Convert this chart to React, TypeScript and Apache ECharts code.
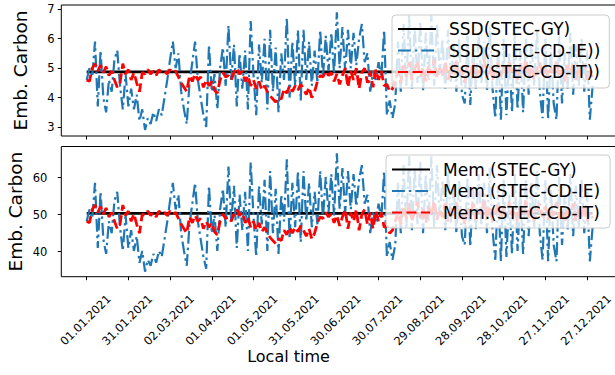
import React, { useEffect, useRef } from 'react';
import * as echarts from 'echarts';

// x axis: days counted from 01.12.2020 (01.01.2021 = day 31); series sampled every 2 days
const FIRST_DAY = 31;
const STEP_DAYS = 2;
const tickDays = [31, 61, 91, 121, 151, 181, 211, 241, 271, 301, 331, 361, 391];
const tickLabels = ['01.01.2021', '31.01.2021', '02.03.2021', '01.04.2021', '01.05.2021', '31.05.2021', '30.06.2021', '30.07.2021', '29.08.2021', '28.09.2021', '28.10.2021', '27.11.2021', '27.12.2021'];
const ssdTicks = [3, 4, 5, 6, 7];
const memTicks = [40, 50, 60];

const gyDays = [31, 395];
const ssdGY = [4.87, 4.87];
const memGY = [50.35, 50.35];

const ssdIE = [
  4.6, 5.0, 4.7, 5.9, 3.7, 5.6, 4.0, 3.5, 4.6, 4.2,
  5.3, 5.6, 4.4, 3.6, 4.8, 3.7, 4.3, 3.6, 4.1, 3.2,
  3.6, 2.9, 3.3, 3.1, 3.5, 3.2, 3.6, 3.4, 4.0, 4.6,
  5.3, 5.9, 5.0, 5.5, 4.2, 3.6, 3.1, 4.5, 5.2, 5.9,
  4.6, 4.0, 3.4, 3.0, 5.8, 4.2, 4.8, 3.6, 5.0, 5.7,
  4.4, 6.45, 4.6, 5.8, 3.7, 5.5, 4.3, 5.6, 3.6, 6.6,
  4.8, 3.4, 5.8, 4.5, 6.0, 3.6, 6.3, 4.2, 5.7, 3.5,
  5.5, 4.6, 6.7, 4.0, 5.9, 4.4, 6.3, 3.9, 6.3, 4.6,
  5.9, 4.4, 5.6, 4.5, 6.3, 4.7, 6.1, 4.9, 6.2, 4.8,
  6.9, 5.0, 6.4, 4.9, 6.3, 5.0, 6.2, 5.1, 6.0, 6.5,
  5.2, 5.5, 4.2, 4.9, 4.6, 5.2, 4.7, 6.3, 3.4, 3.9,
  3.3, 3.8, 5.9, 4.2, 6.5, 4.4, 6.8, 4.3, 6.4, 4.5,
  6.6, 4.2, 6.2, 4.6, 6.8, 4.4, 6.5, 4.8, 6.0, 4.3,
  6.3, 4.5, 5.8, 4.2, 6.0, 4.1, 3.8, 6.1, 3.75, 5.7,
  4.3, 6.2, 4.5, 5.9, 4.2, 6.4, 4.3, 3.3, 5.8, 3.25,
  6.0, 3.4, 5.5, 3.5, 6.2, 3.6, 5.6, 3.5, 6.0, 4.1,
  5.9, 4.4, 6.3, 4.2, 3.3, 6.0, 3.25, 5.7, 3.8, 3.25,
  6.1, 3.8, 5.5, 4.3, 6.2, 4.1, 5.8, 4.4, 6.0, 4.2,
  5.6, 3.25, 4.4,
];

const ssdIT = [
  4.6, 4.55, 5.0, 5.15, 4.9, 5.1, 4.85, 5.05, 4.75, 4.9,
  4.6, 4.35, 4.5, 5.15, 4.8, 4.95, 4.6, 4.85, 4.5, 4.2,
  4.85, 4.8, 4.95, 4.8, 4.9, 4.75, 4.95, 4.85, 4.9, 4.8,
  4.95, 4.85, 4.9, 4.7, 4.5, 4.35, 4.2, 4.75, 4.55, 4.8,
  4.6, 4.7, 4.35, 4.6, 4.4, 4.55, 4.25, 4.15, 4.6, 4.85,
  4.7, 4.75, 4.6, 4.85, 5.0, 4.8, 4.9, 4.55, 4.75, 4.4,
  4.6, 4.3, 4.55, 4.25, 4.4, 4.2, 4.05, 3.95, 3.85, 4.0,
  3.95, 4.3, 4.15, 4.4, 4.2, 4.4, 4.25, 4.45, 4.3, 4.1,
  4.35, 4.0, 4.2, 4.55, 4.75, 4.7, 4.9, 4.75, 4.85, 4.55,
  4.8, 4.45, 4.75, 5.0, 4.35, 4.9, 4.6, 5.0, 4.3, 4.85,
  5.0, 4.5, 4.9, 4.35, 4.95, 4.6, 4.9, 4.4, 4.45, 4.2,
  4.3, 4.6, 4.9, 4.5, 5.1, 4.7, 5.2, 4.6, 4.95, 5.25,
  4.7, 5.0, 4.55, 5.1, 4.8, 5.3, 4.65, 5.0, 4.75, 5.2,
  4.6, 5.05, 4.8, 5.25, 4.7, 4.95, 4.5, 5.1, 4.8, 5.2,
  4.65, 5.0, 4.85, 5.3, 4.7, 5.05, 4.6, 4.9, 5.2, 4.7,
  5.1, 4.75, 5.25, 4.8, 5.0, 4.6, 5.15, 4.85, 5.3, 4.7,
  5.05, 4.6, 4.95, 5.2, 4.75, 5.1, 4.65, 5.0, 4.8, 5.25,
  4.7, 4.95, 4.55, 5.1, 4.8, 5.2, 4.6, 5.0, 4.75, 5.15,
  4.6, 4.9, 4.7,
];

const memIE = [
  48.2, 51.4, 49.0, 58.6, 41.0, 56.2, 43.4, 39.4, 48.2, 45.0,
  53.8, 56.2, 46.6, 40.2, 49.8, 41.0, 45.8, 40.2, 44.2, 37.0,
  40.2, 34.6, 37.8, 36.2, 39.4, 37.0, 40.2, 38.6, 43.4, 48.2,
  53.8, 58.6, 51.4, 55.4, 45.0, 40.2, 36.2, 47.4, 53.0, 58.6,
  48.2, 43.4, 38.6, 35.4, 57.8, 45.0, 49.8, 40.2, 51.4, 57.0,
  46.6, 63.0, 48.2, 57.8, 41.0, 55.4, 45.8, 56.2, 40.2, 64.2,
  49.8, 38.6, 57.8, 47.4, 59.4, 40.2, 61.8, 45.0, 57.0, 39.4,
  55.4, 48.2, 65.0, 43.4, 58.6, 46.6, 61.8, 42.6, 61.8, 48.2,
  58.6, 46.6, 56.2, 47.4, 61.8, 49.0, 60.2, 50.6, 61.0, 49.8,
  66.6, 51.4, 62.6, 50.6, 61.8, 51.4, 61.0, 52.2, 59.4, 63.4,
  53.0, 55.4, 45.0, 50.6, 48.2, 53.0, 49.0, 61.8, 38.6, 42.6,
  37.8, 41.8, 58.6, 45.0, 63.4, 46.6, 65.8, 45.8, 62.6, 47.4,
  64.2, 45.0, 61.0, 48.2, 65.8, 46.6, 63.4, 49.8, 59.4, 45.8,
  61.8, 47.4, 57.8, 45.0, 59.4, 44.2, 41.8, 60.2, 41.4, 57.0,
  45.8, 61.0, 47.4, 58.6, 45.0, 62.6, 45.8, 37.8, 57.8, 37.4,
  59.4, 38.6, 55.4, 39.4, 61.0, 40.2, 56.2, 39.4, 59.4, 44.2,
  58.6, 46.6, 61.8, 45.0, 37.8, 59.4, 37.4, 57.0, 41.8, 37.4,
  60.2, 41.8, 55.4, 45.8, 61.0, 44.2, 57.8, 46.6, 59.4, 45.0,
  56.2, 37.4, 46.6,
];

const memIT = [
  48.2, 47.8, 51.4, 52.6, 50.6, 52.2, 50.2, 51.8, 49.4, 50.6,
  48.2, 46.2, 47.4, 52.6, 49.8, 51.0, 48.2, 50.2, 47.4, 45.0,
  50.2, 49.8, 51.0, 49.8, 50.6, 49.4, 51.0, 50.2, 50.6, 49.8,
  51.0, 50.2, 50.6, 49.0, 47.4, 46.2, 45.0, 49.4, 47.8, 49.8,
  48.2, 49.0, 46.2, 48.2, 46.6, 47.8, 45.4, 44.6, 48.2, 50.2,
  49.0, 49.4, 48.2, 50.2, 51.4, 49.8, 50.6, 47.8, 49.4, 46.6,
  48.2, 45.8, 47.8, 45.4, 46.6, 45.0, 43.8, 43.0, 42.2, 43.4,
  43.0, 45.8, 44.6, 46.6, 45.0, 46.6, 45.4, 47.0, 45.8, 44.2,
  46.2, 43.4, 45.0, 47.8, 49.4, 49.0, 50.6, 49.4, 50.2, 47.8,
  49.8, 47.0, 49.4, 51.4, 46.2, 50.6, 48.2, 51.4, 45.8, 50.2,
  51.4, 47.4, 50.6, 46.2, 51.0, 48.2, 50.6, 46.6, 47.0, 45.0,
  45.8, 48.2, 50.6, 47.4, 52.2, 49.0, 53.0, 48.2, 51.0, 53.4,
  49.0, 51.4, 47.8, 52.2, 49.8, 53.8, 48.6, 51.4, 49.4, 53.0,
  48.2, 51.8, 49.8, 53.4, 49.0, 51.0, 47.4, 52.2, 49.8, 53.0,
  48.6, 51.4, 50.2, 53.8, 49.0, 51.8, 48.2, 50.6, 53.0, 49.0,
  52.2, 49.4, 53.4, 49.8, 51.4, 48.2, 52.6, 50.2, 53.8, 49.0,
  51.8, 48.2, 51.0, 53.0, 49.4, 52.2, 48.6, 51.4, 49.8, 53.4,
  49.0, 51.0, 47.8, 52.2, 49.8, 53.0, 48.2, 51.4, 49.4, 52.6,
  48.2, 50.6, 49.0,
];

const FONT = 'DejaVu Sans';
const X_MIN = FIRST_DAY - 18.25;
const X_MAX = FIRST_DAY + 383.2;
const BLUE = '#1f77b4';
const RED = '#ff0000';

const sampled = (vals: number[]) => vals.map((v, i) => [FIRST_DAY + i * STEP_DAYS, v]);
const paired = (xs: number[], ys: number[]) => xs.map((x, i) => [x, ys[i]]);

function xAxisFor(gridIndex: number, withName: boolean) {
  return {
    gridIndex,
    type: 'value',
    min: X_MIN,
    max: X_MAX,
    axisLine: { show: false, onZero: false },
    splitLine: { show: false },
    axisTick: { show: true, length: 3.5, customValues: tickDays, lineStyle: { color: '#000', width: 1 } },
    axisLabel: { show: false },
    name: withName ? 'Local time' : '',
    nameLocation: 'middle',
    nameGap: 72,
    nameMoveOverlap: false,
    nameTextStyle: { fontSize: 16, fontFamily: FONT, color: '#000', padding: [0, 103.6, 0, 0] },
  };
}

function yAxisFor(gridIndex: number, min: number, max: number, ticks: number[], nameGap: number) {
  return {
    gridIndex,
    type: 'value',
    position: 'left',
    min,
    max,
    axisLine: { show: false, onZero: false },
    splitLine: { show: false },
    axisTick: { show: true, length: 3.5, customValues: ticks, lineStyle: { color: '#000', width: 1 } },
    axisLabel: { show: false },
    name: 'Emb. Carbon',
    nameLocation: 'middle',
    nameGap,
    nameMoveOverlap: false,
    nameTextStyle: { fontSize: 18.5, fontFamily: FONT, color: '#000' },
  };
}

function legendFor(names: string[], left: number, top: number, padding: number[]) {
  return {
    data: names,
    orient: 'vertical',
    left,
    top,
    itemWidth: 38,
    itemHeight: 20,
    itemGap: 4.5,
    padding,
    backgroundColor: 'rgba(255,255,255,0.8)',
    borderColor: '#cccccc',
    borderWidth: 1,
    borderRadius: 4,
    selectedMode: false,
    itemStyle: { opacity: 0 },
    textStyle: { fontSize: 17, fontFamily: FONT, color: '#000', padding: [0, 0, 0, 8] },
  };
}

const gridBase = {
  left: 61.3,
  width: 558,
  show: true,
  borderColor: '#000',
  borderWidth: 1,
  backgroundColor: 'transparent',
  containLabel: false,
  outerBoundsMode: 'none',
};

export default function App() {
  const ref = useRef<HTMLDivElement>(null);
  useEffect(() => {
    document.body.style.margin = '0';
    const chart = echarts.init(ref.current as HTMLDivElement, null, { renderer: 'svg' });
    const lineBase = { type: 'line', symbol: 'none', showSymbol: false, silent: true };
    const option: any = {
      animation: false,
      backgroundColor: '#ffffff',
      grid: [
        { ...gridBase, top: 5, height: 131 },
        { ...gridBase, top: 146.5, height: 130.2 },
      ],
      xAxis: [xAxisFor(0, false), xAxisFor(1, true)],
      yAxis: [
        yAxisFor(0, 2.694, 7.146, ssdTicks, 31),
        yAxisFor(1, 33.24, 68.43, memTicks, 36),
      ],
      legend: [
        legendFor(['SSD(STEC-GY)', 'SSD(STEC-CD-IE))', 'SSD(STEC-CD-IT))'], 392, 15, [5.5, 9, 7.5, 5]),
        legendFor(['Mem.(STEC-GY)', 'Mem.(STEC-CD-IE)', 'Mem.(STEC-CD-IT)'], 386, 155, [6, 10, 7, 5]),
      ],
      series: [
        { ...lineBase, name: 'SSD(STEC-GY)', xAxisIndex: 0, yAxisIndex: 0, data: paired(gyDays, ssdGY), lineStyle: { color: '#000', width: 2.8 }, itemStyle: { color: '#000' } },
        { ...lineBase, name: 'SSD(STEC-CD-IE))', xAxisIndex: 0, yAxisIndex: 0, data: sampled(ssdIE), lineStyle: { color: BLUE, width: 2.2, type: [12.8, 4, 2.5, 4] }, itemStyle: { color: BLUE } },
        { ...lineBase, name: 'SSD(STEC-CD-IT))', xAxisIndex: 0, yAxisIndex: 0, data: sampled(ssdIT), lineStyle: { color: RED, width: 2.8, type: [10, 4.5] }, itemStyle: { color: RED } },
        { ...lineBase, name: 'Mem.(STEC-GY)', xAxisIndex: 1, yAxisIndex: 1, data: paired(gyDays, memGY), lineStyle: { color: '#000', width: 2.8 }, itemStyle: { color: '#000' } },
        { ...lineBase, name: 'Mem.(STEC-CD-IE)', xAxisIndex: 1, yAxisIndex: 1, data: sampled(memIE), lineStyle: { color: BLUE, width: 2.2, type: [12.8, 4, 2.5, 4] }, itemStyle: { color: BLUE } },
        { ...lineBase, name: 'Mem.(STEC-CD-IT)', xAxisIndex: 1, yAxisIndex: 1, data: sampled(memIT), lineStyle: { color: RED, width: 2.8, type: [10, 4.5] }, itemStyle: { color: RED } },
      ],
    };
    chart.setOption(option);

    // tick labels placed through the axes' own scales
    const labelStyle = { fontSize: 11.5, fontFamily: FONT, fill: '#000' };
    const graphics: any[] = [];
    const axisBottom = chart.convertToPixel({ gridIndex: 1 }, [X_MIN, 33.24]) as number[];
    tickDays.forEach((d, i) => {
      const p = chart.convertToPixel({ gridIndex: 1 }, [d, 50]) as number[];
      graphics.push({
        type: 'text',
        x: p[0] - 1.2,
        y: axisBottom[1] + 43.3,
        rotation: Math.PI / 4,
        silent: true,
        style: { ...labelStyle, text: tickLabels[i], align: 'center', verticalAlign: 'middle' },
      });
    });
    const yLabel = (gridIndex: number, ticks: number[], rightX: number) => {
      ticks.forEach((v) => {
        const p = chart.convertToPixel({ gridIndex }, [FIRST_DAY, v]) as number[];
        graphics.push({
          type: 'text',
          x: rightX,
          y: p[1],
          silent: true,
          style: { ...labelStyle, text: String(v), align: 'right', verticalAlign: 'middle' },
        });
      });
    };
    const left = (chart.convertToPixel({ gridIndex: 0 }, [X_MIN, 5]) as number[])[0];
    yLabel(0, ssdTicks, left - 6.8);
    yLabel(1, memTicks, left - 14);
    chart.setOption({ graphic: graphics });
    return () => chart.dispose();
  }, []);
  return <div ref={ref} style={{ width: 615, height: 375, background: '#fff' }} />;
}
